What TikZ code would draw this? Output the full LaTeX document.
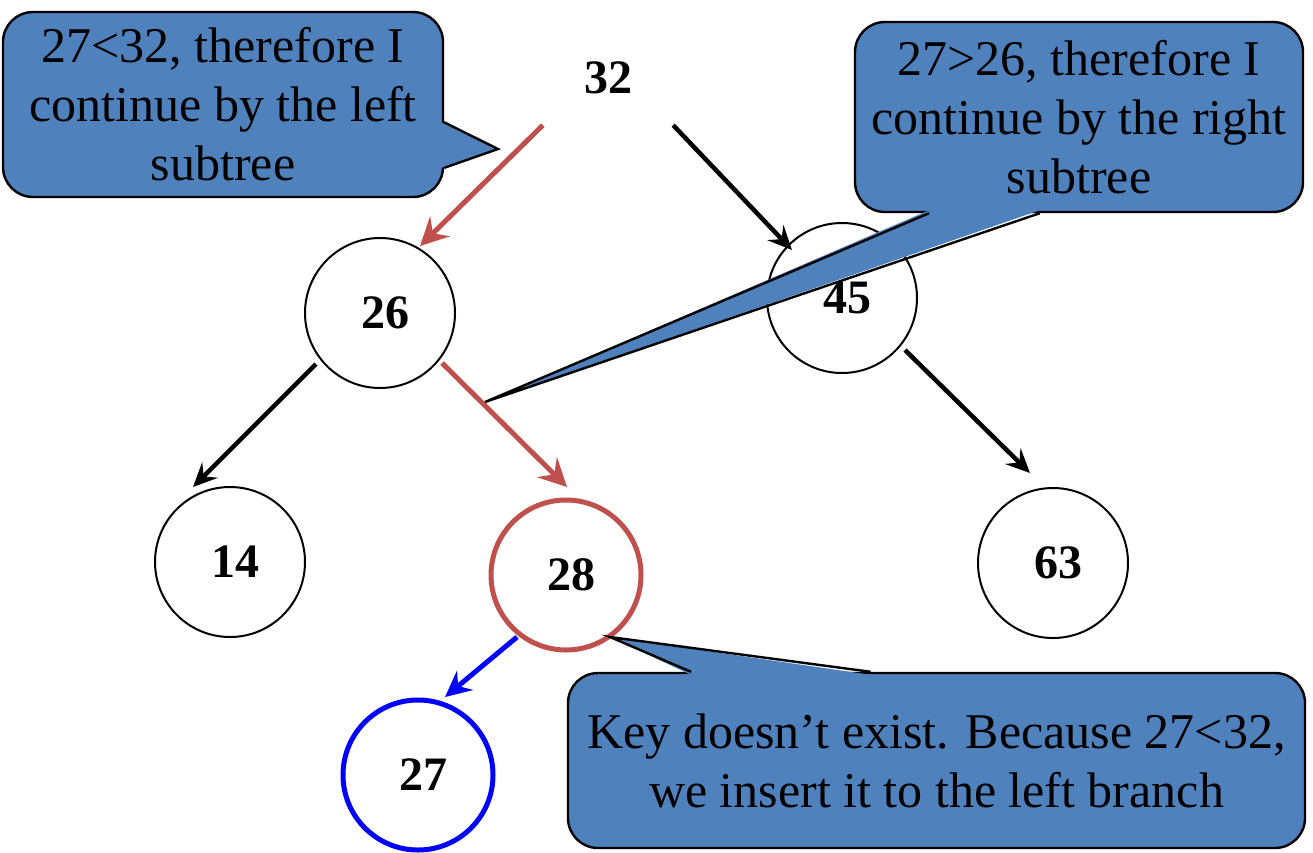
\documentclass[tikz,border=0pt]{standalone}
\usepackage{fontspec}
\setmainfont{Liberation Serif}
\usetikzlibrary{arrows.meta,calc}
\definecolor{noteblue}{HTML}{4F81BD}
\definecolor{pathred}{HTML}{C0504D}

\begin{document}
\begin{tikzpicture}[
  x=1pt, y=-1pt,
  vertex/.style={circle, draw=#1, line width=2pt, minimum size=150pt, inner sep=0pt,
    font=\fontsize{48}{50}\selectfont\bfseries, execute at begin node=\hspace*{10pt}},
  vertex/.default=black,
  link/.style={-{Stealth[length=24pt, width=22pt, inset=9pt]}, line width=4.5pt, draw=#1},
  link/.default=black,
  hotlink/.style={-{Stealth[length=28pt, width=28pt, inset=10pt]}, line width=5pt, draw=#1},
  notebox/.style={draw=black, line width=2.4pt, fill=noteblue, rounded corners=30pt,
    align=center, inner sep=0pt, font=\fontsize{50}{59}\selectfont},
  tailfill/.style={fill=noteblue},
  tailline/.style={draw=black, line width=2.4pt, line join=miter}
]
  \useasboundingbox (0,0) rectangle (1313,852);

  % tree
  \node[font=\fontsize{48}{50}\selectfont\bfseries, minimum width=130pt, minimum height=94pt]
    (n32) at (608,78) {32};
  \node[vertex] (c26) at (380,313) {26};
  \node[vertex] (c45) at (842,298) {45};
  \node[vertex] (c14) at (230,562) {14};
  \node[vertex=pathred, line width=5pt] (c28) at (566,575) {28};
  \node[vertex] (c63) at (1053,563) {63};
  \node[vertex=blue, line width=5pt] (c27) at (418,775) {27};

  \draw[hotlink=pathred] (n32.south west) -- ($(c26)+(40,-67)$);
  \draw[link] (n32.south east) -- ($(c45)+(-50,-48)$);
  \draw[link] ($(c26)+(-64,51)$) -- ($(c14)+(-37,-75)$);
  \draw[hotlink=pathred] ($(c26)+(62,50)$) -- ($(c28)+(1,-88)$);
  \draw[link] ($(c45)+(63,52)$) -- ($(c63)+(-23,-90)$);
  \draw[hotlink=blue, -{Stealth[length=26pt, width=25pt, inset=9pt]}]
    ($(c28)+(-49,62)$) -- ($(c27)+(27,-78)$);

  % callouts
  \node[notebox, minimum width=440pt, minimum height=185pt] (leftnote) at (223,104.5)
    {27<32, therefore I\\continue by the left\\subtree};
  \coordinate (lefttip) at (498,149);
  \coordinate (la) at ($(leftnote.north east)!0.595!(leftnote.south east)$);
  \coordinate (lb) at ($(leftnote.north east)!0.838!(leftnote.south east)$);
  \fill[tailfill] ($(la)+(-3,0)$) -- (lefttip) -- ($(lb)+(-3,0)$) -- cycle;
  \draw[tailline] (la) -- (lefttip) -- (lb);

  \node[notebox, minimum width=448pt, minimum height=190pt] (rightnote) at (1079,117)
    {27>26, therefore I\\continue by the right\\subtree};
  \coordinate (righttip) at (485,402);
  \coordinate (ra) at ($(rightnote.south west)!0.167!(rightnote.south east)$);
  \coordinate (rb) at ($(rightnote.south west)!0.413!(rightnote.south east)$);
  \fill[tailfill] ($(ra)+(0,-3)$) -- (righttip) -- ($(rb)+(0,-3)$) -- cycle;
  \draw[tailline] (ra) -- (righttip) -- (rb);

  \node[notebox, minimum width=737pt, minimum height=175pt] (bottomnote) at (936.5,760.5)
    {Key doesn’t exist. Because 27<32,\\we insert it to the left branch};
  \coordinate (bottomtip) at (610,637);
  \coordinate (ba) at ($(bottomnote.north west)!0.168!(bottomnote.north east)$);
  \coordinate (bb) at ($(bottomnote.north west)!0.411!(bottomnote.north east)$);
  \fill[tailfill] ($(ba)+(0,3)$) -- (bottomtip) -- ($(bb)+(0,3)$) -- cycle;
  \draw[tailline] (ba) -- (bottomtip) -- (bb);
\end{tikzpicture}
\end{document}
